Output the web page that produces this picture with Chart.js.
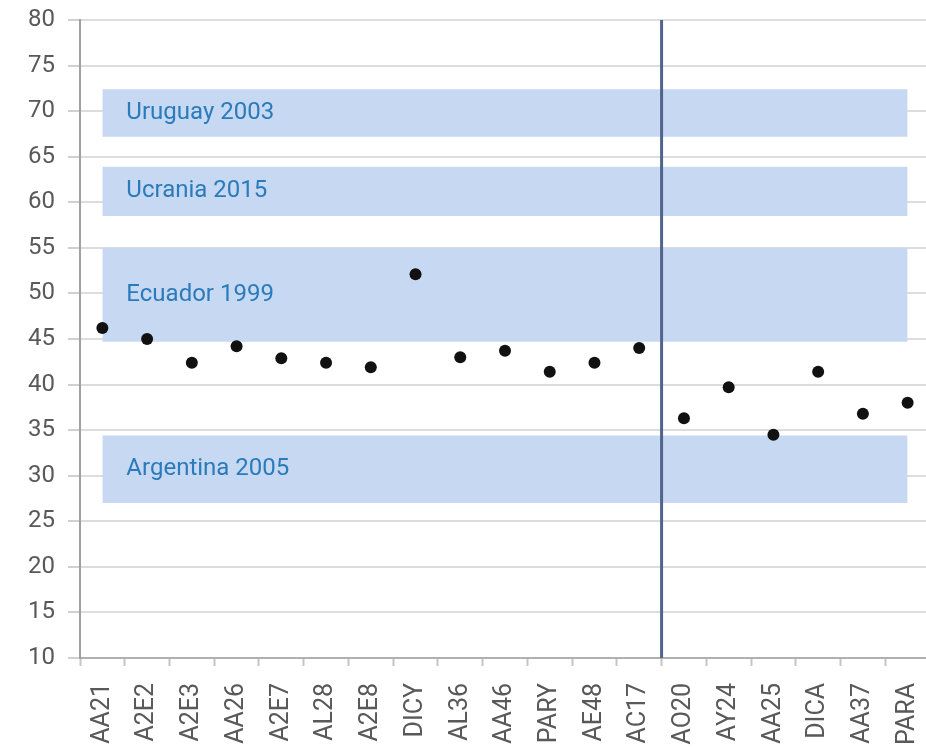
<!DOCTYPE html>
<html>
<head>
<meta charset="utf-8">
<script src="https://cdn.jsdelivr.net/npm/chart.js@4.4.1/dist/chart.umd.min.js"></script>
<style>
  html, body { margin: 0; padding: 0; background: #fff; overflow: hidden; }
  #wrap { width: 936px; height: 749px; }
</style>
</head>
<body>
<div id="wrap"><canvas id="chart" width="936" height="749"></canvas></div>
<script>
// categories along the x axis
const categories = ["AA21", "A2E2", "A2E3", "AA26", "A2E7", "AL28", "A2E8", "DICY", "AL36", "AA46",
    "PARY", "AE48", "AC17", "AO20", "AY24", "AA25", "DICA", "AA37", "PARA"];
const values = [46.2, 45.0, 42.4, 44.2, 42.9, 42.4, 41.9, 52.1, 43.0, 43.7,
    41.4, 42.4, 44.0, 36.3, 39.7, 34.5, 41.4, 36.8, 38.0];

// reference bands
const bandNames = ["Uruguay 2003", "Ucrania 2015", "Ecuador 1999", "Argentina 2005"];
const bandLow = [67.2, 58.5, 44.7, 27.0];
const bandHigh = [72.4, 63.9, 55.0, 34.4];

// vertical separator sits after this category
const splitAfter = "AC17";

const yMin = 10, yMax = 80, yStep = 5;

const bandColor = "#c6d8f2";
const first = categories[0];
const last = categories[categories.length - 1];

const bandSets = bandNames.map((name, i) => ({
    label: name,
    data: [{ x: first, y: bandHigh[i] }, { x: last, y: bandHigh[i] }],
    borderColor: "transparent",
    backgroundColor: bandColor,
    pointRadius: 0,
    fill: { value: bandLow[i] }
}));

const overlay = {
    id: "overlay",
    afterDatasetsDraw(chart) {
        const ctx = chart.ctx;
        const x = chart.scales.x, y = chart.scales.y;
        const area = chart.chartArea;

        // separator line
        const idx = categories.indexOf(splitAfter);
        const sx = (x.getPixelForValue(idx) + x.getPixelForValue(idx + 1)) / 2;
        ctx.save();
        ctx.strokeStyle = "#52648c";
        ctx.lineWidth = 3;
        ctx.beginPath();
        ctx.moveTo(sx, area.top);
        ctx.lineTo(sx, area.bottom);
        ctx.stroke();

        // band captions
        ctx.font = "24px Roboto";
        ctx.fillStyle = "#2b7bba";
        ctx.textBaseline = "middle";
        ctx.textAlign = "left";
        bandNames.forEach((name, i) => {
            const ty = y.getPixelForValue((bandLow[i] + bandHigh[i]) / 2);
            ctx.fillText(name, x.getPixelForValue(0) + 24, ty);
        });
        ctx.restore();
    }
};

new Chart(document.getElementById("chart"), {
    type: "line",
    data: {
        labels: categories,
        datasets: [{
            label: "valores",
            data: values,
            showLine: false,
            pointRadius: 6,
            pointBackgroundColor: "#111",
            pointBorderWidth: 0
        }].concat(bandSets)
    },
    options: {
        responsive: false,
        animation: false,
        layout: { padding: { top: 20, right: 0, left: 0, bottom: 0 } },
        plugins: {
            legend: { display: false },
            tooltip: { enabled: false }
        },
        scales: {
            x: {
                offset: true,
                grid: {
                    offset: true,
                    drawOnChartArea: false,
                    tickLength: 8,
                    tickColor: "#c4c4c4",
                    tickWidth: 2
                },
                border: { color: "#b0b0b0", width: 2 },
                ticks: {
                    minRotation: 90,
                    maxRotation: 90,
                    padding: 17,
                    color: "#595959",
                    font: { family: "Roboto", size: 25 }
                },
                afterFit(scale) {
                    scale.height = 91;
                    scale.paddingLeft = 0;
                    scale.paddingRight = 0;
                }
            },
            y: {
                min: yMin,
                max: yMax,
                ticks: {
                    stepSize: yStep,
                    padding: 13,
                    color: "#595959",
                    font: { family: "Roboto", size: 24 }
                },
                grid: {
                    color: "#dddddd",
                    lineWidth: 2,
                    tickLength: 12,
                    tickColor: "#d0d0d0"
                },
                border: { color: "#a0a0a0", width: 2 },
                afterFit(scale) {
                    scale.width = 80;
                    scale.paddingTop = 0;
                    scale.paddingBottom = 0;
                }
            }
        }
    },
    plugins: [overlay]
});
</script>
</body>
</html>
